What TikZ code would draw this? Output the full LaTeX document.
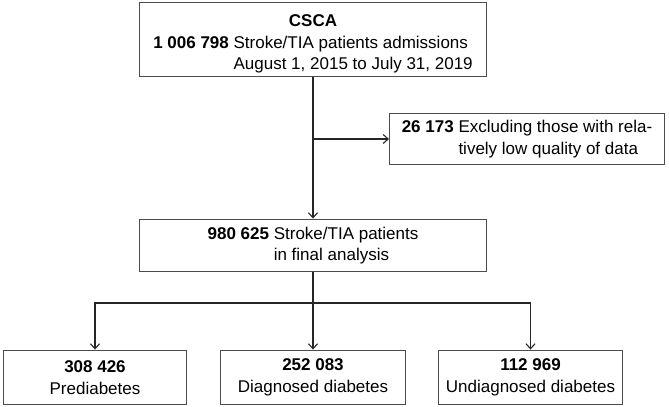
\documentclass[tikz,border=0pt]{standalone}
\usepackage{fontspec}
\setmainfont{Liberation Sans}
\usetikzlibrary{arrows.meta}

\begin{document}
\begin{tikzpicture}[x=1bp, y=1bp, >={Straight Barb[length=5bp, width=9bp]},
    box/.style={draw=black!70, line width=1.1bp, align=center, inner sep=0pt,
        font=\fontsize{17bp}{21.5bp}\selectfont},
    link/.style={draw=black!85, line width=1.1bp}]
    \useasboundingbox (0,0) rectangle (669,406);

    % --- Cohort source ---
    \node[box, minimum width=348, minimum height=75] (csca) at (313, 366.5)
        {\rule{0pt}{24bp}\textbf{CSCA}\\
         \textbf{1 006 798} \begin{tabular}[t]{@{}l@{}}Stroke/TIA patients admissions\\
         August 1, 2015 to July 31, 2019\end{tabular}};

    % --- Exclusion ---
    \node[box, minimum width=276, minimum height=52] (excl) at (527, 267)
        {\textbf{26 173} \begin{tabular}[t]{@{}l@{}}Excluding those with rela-\\
         tively low quality of data\end{tabular}};

    % --- Final analysis ---
    \node[box, minimum width=348, minimum height=53] (final) at (313, 160.5)
        {\textbf{980 625} \begin{tabular}[t]{@{}l@{}}Stroke/TIA patients\\
         in final analysis\end{tabular}};

    % --- Glycaemic groups ---
    \node[box, minimum width=184, minimum height=55] (pre) at (95, 28.5)
        {\textbf{308 426}\\Prediabetes};
    \node[box, minimum width=185, minimum height=55] (diag) at (313, 28.5)
        {\textbf{252 083}\\Diagnosed diabetes};
    \node[box, minimum width=185, minimum height=55] (undiag) at (530.5, 28.5)
        {\textbf{112 969}\\Undiagnosed diabetes};

    % --- Connectors ---
    \draw[link, ->] (csca) -- (final);
    \draw[link, ->] (csca.south |- excl.west) -- (excl.west);

    \coordinate (bar) at (313, 103);
    \draw[link] (final) -- (bar);
    \draw[link, ->] (bar) -| (pre.north);
    \draw[link, ->] (bar) -- (diag);
    \draw[link, ->] (bar) -| (undiag.north);

\end{tikzpicture}
\end{document}
